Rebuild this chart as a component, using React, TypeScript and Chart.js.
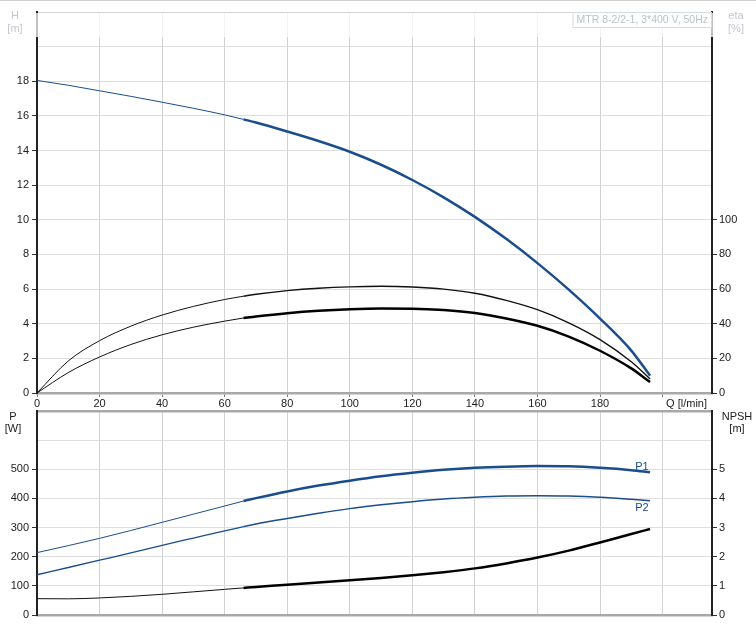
import React, { useEffect, useRef } from 'react';
import { Chart, registerables } from 'chart.js';

Chart.register(...registerables);

// ---- data ----
const Q = [0, 10, 20, 30, 40, 50, 60, 66, 70, 80, 90, 100, 110, 120, 130, 140, 150, 160, 170, 180, 190, 196];
const H = [18.05, 17.77, 17.45, 17.13, 16.79, 16.44, 16.06, 15.8, 15.62, 15.1, 14.55, 13.93, 13.18, 12.3, 11.3, 10.17, 8.9, 7.5, 5.97, 4.3, 2.45, 1.0];
const ETA_UPPER = [0, 18.5, 30.2, 38.6, 45.0, 50.0, 54.0, 55.9, 57.0, 59.1, 60.5, 61.3, 61.6, 61.2, 60.0, 57.6, 53.5, 48.1, 40.5, 30.8, 18.0, 8.1];
const ETA_LOWER = [0, 11.8, 20.8, 28.0, 33.6, 38.0, 41.5, 43.3, 44.2, 46.1, 47.5, 48.4, 48.8, 48.7, 47.9, 46.2, 43.0, 38.8, 32.6, 24.4, 14.2, 6.3];
const P1 = [214, 238, 263, 290, 318, 346, 374, 391, 401, 424, 444, 461, 476, 488, 498, 505, 509, 511, 510, 505, 497, 490];
const P2 = [138, 163, 188, 213, 239, 264, 289, 303, 312, 331, 349, 365, 378, 389, 398, 404, 408, 409, 408, 404, 397, 392];
const NPSH = [0.56, 0.555, 0.585, 0.64, 0.71, 0.795, 0.88, 0.93, 0.96, 1.04, 1.115, 1.19, 1.27, 1.36, 1.47, 1.6, 1.77, 1.97, 2.21, 2.49, 2.78, 2.95];
const SPLIT = 7; // index where the duty range (thick line) begins

const Q_MAX = 215.8;
const Q_TICKS = [0, 20, 40, 60, 80, 100, 120, 140, 160, 180, 200];
const Q_LABEL_MAX = 180;
const H_TICKS = [0, 2, 4, 6, 8, 10, 12, 14, 16, 18, 20, 22];
const H_LABEL_MAX = 18;
const ETA_TICKS = [0, 20, 40, 60, 80, 100, 120, 140, 160, 180, 200, 220];
const ETA_LABEL_MAX = 100;
const P_TICKS = [0, 100, 200, 300, 400, 500, 600, 700];
const P_LABEL_MAX = 500;
const NPSH_TICKS = [0, 1, 2, 3, 4, 5, 6, 7];
const NPSH_LABEL_MAX = 5;

const TITLE = 'MTR 8-2/2-1, 3*400 V, 50Hz';
const CURVE_LABELS = [
  { text: 'P1', q: 193.4, value: 508 },
  { text: 'P2', q: 193.4, value: 367 },
];

// ---- styles ----
const BLUE = '#1a4d8c';
const FONT_FAMILY = "'Liberation Sans', Arial, sans-serif";
const FONT = { family: FONT_FAMILY, size: 11 };
const V_GRID = '#cfd3d6';
const H_GRID = '#dedede';
const FRAME_GRAY = '#a8a8a8';
const AXIS_DARK = '#222';

function pts(values: number[], from: number, to: number) {
  const out: { x: number; y: number }[] = [];
  for (let i = from; i <= to; i++) out.push({ x: Q[i], y: values[i] });
  return out;
}

function line(data: any, color: string, width: number, axis: string) {
  return {
    data,
    borderColor: color,
    borderWidth: width,
    pointRadius: 0,
    fill: false,
    yAxisID: axis,
    cubicInterpolationMode: 'monotone',
  };
}

function ticksFrom(values: number[]) {
  return (s: any) => {
    s.ticks = values.map((v) => ({ value: v }));
  };
}

function yAxis(position: 'left' | 'right', ticks: number[], labelMax: number, width: number, onChart: boolean, gridColor: any, gridWidth: any, pad: number) {
  return {
    type: 'linear' as const,
    position,
    min: ticks[0],
    max: ticks[ticks.length - 1],
    afterBuildTicks: ticksFrom(ticks),
    afterFit: (s: any) => {
      s.width = width;
    },
    ticks: {
      autoSkip: false,
      font: FONT,
      color: AXIS_DARK,
      padding: pad,
      callback: (v: any) => (Number(v) <= labelMax ? String(v) : ''),
    },
    grid: {
      drawOnChartArea: onChart,
      color: gridColor,
      lineWidth: gridWidth,
      tickLength: 5,
      tickColor: (ctx: any) => (ctx.tick && ctx.tick.value <= labelMax ? '#333' : 'rgba(0,0,0,0)'),
    },
    border: { color: AXIS_DARK, width: 2 },
  };
}

const topPlugin = {
  id: 'topDecor',
  afterDraw(chart: any) {
    const { ctx, chartArea, scales } = chart;
    ctx.save();
    // faded header strip
    ctx.fillStyle = 'rgba(255,255,255,0.72)';
    ctx.fillRect(chartArea.left - 3, chartArea.top + 1, chartArea.right - chartArea.left + 6, 24);
    // outer top line
    ctx.strokeStyle = '#cfcfcf';
    ctx.lineWidth = 1;
    ctx.beginPath();
    ctx.moveTo(0, 0.5);
    ctx.lineTo(chart.width, 0.5);
    ctx.stroke();
    // title box
    ctx.font = `10.5px ${FONT_FAMILY}`;
    const tw = ctx.measureText(TITLE).width;
    const bx = chartArea.right - tw - 8;
    ctx.fillStyle = '#fff';
    ctx.fillRect(bx, chartArea.top, tw + 8, 16);
    ctx.strokeStyle = '#d6dde0';
    ctx.strokeRect(bx + 0.5, chartArea.top + 0.5, tw + 7, 15);
    ctx.fillStyle = '#b9c3c9';
    ctx.textBaseline = 'middle';
    ctx.textAlign = 'left';
    ctx.fillText(TITLE, bx + 4, chartArea.top + 8.5);
    // axis titles
    ctx.font = `11px ${FONT_FAMILY}`;
    ctx.fillStyle = '#c8c4d0';
    ctx.textAlign = 'center';
    ctx.fillText('H', 15, 16);
    ctx.fillText('[m]', 15, 29);
    ctx.fillText('eta', 736, 16);
    ctx.fillText('[%]', 736, 29);
    // Q label
    ctx.fillStyle = AXIS_DARK;
    ctx.textAlign = 'right';
    ctx.fillText('Q [l/min]', chartArea.right - 5, scales.x.bottom - 6);
    ctx.restore();
  },
};

const bottomPlugin = {
  id: 'bottomDecor',
  afterDraw(chart: any) {
    const { ctx, scales } = chart;
    ctx.save();
    ctx.font = `11px ${FONT_FAMILY}`;
    ctx.textBaseline = 'middle';
    ctx.textAlign = 'center';
    ctx.fillStyle = BLUE;
    CURVE_LABELS.forEach((l) => {
      ctx.fillText(l.text, scales.x.getPixelForValue(l.q), scales.y.getPixelForValue(l.value));
    });
    ctx.fillStyle = AXIS_DARK;
    ctx.fillText('P', 13, 17);
    ctx.fillText('[W]', 13, 29);
    ctx.fillText('NPSH', 737, 17);
    ctx.fillText('[m]', 737, 29);
    ctx.restore();
  },
};

export default function App() {
  const topRef = useRef<HTMLCanvasElement>(null);
  const botRef = useRef<HTMLCanvasElement>(null);

  useEffect(() => {
    const top = new Chart(topRef.current as HTMLCanvasElement, {
      type: 'line',
      data: {
        datasets: [
          line(pts(H, 0, SPLIT), BLUE, 1, 'y'),
          line(pts(H, SPLIT, Q.length - 1), BLUE, 2.5, 'y'),
          line(pts(ETA_UPPER, 0, SPLIT), '#111', 1, 'eta'),
          line(pts(ETA_UPPER, SPLIT, Q.length - 1), '#111', 1.4, 'eta'),
          line(pts(ETA_LOWER, 0, SPLIT), '#111', 1, 'eta'),
          line(pts(ETA_LOWER, SPLIT, Q.length - 1), '#000', 2.5, 'eta'),
        ],
      } as any,
      options: {
        animation: false,
        responsive: false,
        events: [],
        layout: { padding: { top: 12, left: 0, right: 0, bottom: 0 } },
        plugins: { legend: { display: false }, tooltip: { enabled: false } },
        scales: {
          x: {
            type: 'linear',
            min: 0,
            max: Q_MAX,
            afterBuildTicks: ticksFrom(Q_TICKS),
            afterFit: (s: any) => {
              s.height = 17;
            },
            ticks: {
              autoSkip: false,
              maxRotation: 0,
              font: FONT,
              color: AXIS_DARK,
              padding: 0,
              callback: (v: any) => (Number(v) <= Q_LABEL_MAX ? String(v) : ''),
            },
            grid: { color: V_GRID, lineWidth: 1, tickLength: 4, tickColor: '#777' },
            border: { color: FRAME_GRAY, width: 2.5 },
          },
          y: yAxis('left', H_TICKS, H_LABEL_MAX, 37, true, (c: any) => (c.tick && c.tick.value === 22 ? '#d4d4d4' : H_GRID), 1, 3),
          eta: yAxis('right', ETA_TICKS, ETA_LABEL_MAX, 44, false, H_GRID, 1, 2),
        },
      } as any,
      plugins: [topPlugin],
    });

    const bot = new Chart(botRef.current as HTMLCanvasElement, {
      type: 'line',
      data: {
        datasets: [
          line(pts(P1, 0, SPLIT), BLUE, 1, 'y'),
          line(pts(P1, SPLIT, Q.length - 1), BLUE, 2.5, 'y'),
          line(pts(P2, 0, SPLIT), BLUE, 1.3, 'y'),
          line(pts(P2, SPLIT, Q.length - 1), BLUE, 1.5, 'y'),
          line(pts(NPSH, 0, SPLIT), '#111', 1, 'npsh'),
          line(pts(NPSH, SPLIT, Q.length - 1), '#000', 2.5, 'npsh'),
        ],
      } as any,
      options: {
        animation: false,
        responsive: false,
        events: [],
        layout: { padding: { top: 11, left: 0, right: 0, bottom: 0 } },
        plugins: { legend: { display: false }, tooltip: { enabled: false } },
        scales: {
          x: {
            type: 'linear',
            min: 0,
            max: Q_MAX,
            afterBuildTicks: ticksFrom(Q_TICKS),
            afterFit: (s: any) => {
              s.height = 15;
            },
            ticks: { display: false },
            grid: { color: V_GRID, lineWidth: 1, drawTicks: false },
            border: { color: FRAME_GRAY, width: 2.5 },
          },
          y: yAxis(
            'left',
            P_TICKS,
            P_LABEL_MAX,
            37,
            true,
            (c: any) => (c.tick && c.tick.value === 700 ? FRAME_GRAY : H_GRID),
            (c: any) => (c.tick && c.tick.value === 700 ? 2.5 : 1),
            3
          ),
          npsh: yAxis('right', NPSH_TICKS, NPSH_LABEL_MAX, 44, false, H_GRID, 1, 2),
        },
      } as any,
      plugins: [bottomPlugin],
    });

    return () => {
      top.destroy();
      bot.destroy();
    };
  }, []);

  return (
    <div style={{ position: 'absolute', left: 0, top: 0, width: 756, height: 630, background: '#fff' }}>
      <canvas ref={topRef} width={756} height={410} style={{ position: 'absolute', left: 0, top: 0 }} />
      <canvas ref={botRef} width={756} height={230} style={{ position: 'absolute', left: 0, top: 400 }} />
    </div>
  );
}
